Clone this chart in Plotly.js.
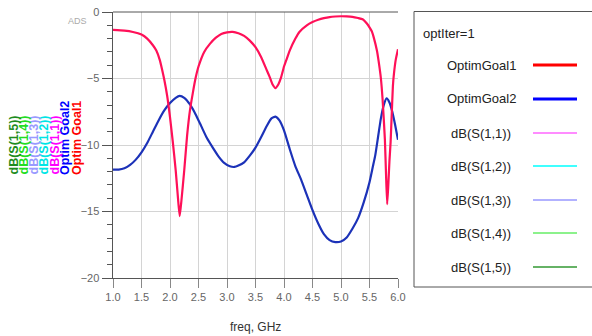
<!DOCTYPE html>
<html><head><meta charset="utf-8">
<script src="https://cdn.plot.ly/plotly-3.0.1.min.js"></script>
<style>html,body{margin:0;padding:0;background:#fff;}#chart{width:592px;height:336px;}</style>
</head><body><div id="chart"></div>
<script>
// ---- data ----
const freqGoal1 = [1.0,1.2,1.35,1.5,1.6,1.7,1.76,1.82,1.86,1.9,1.95,2.0,2.05,2.1,2.14,2.17,2.2,2.25,2.3,2.35,2.4,2.45,2.5,2.6,2.7,2.8,2.9,3.0,3.1,3.2,3.3,3.4,3.5,3.6,3.7,3.75,3.8,3.85,3.9,3.95,4.0,4.05,4.1,4.2,4.27,4.4,4.5,4.6,4.7,4.8,4.9,5.0,5.1,5.2,5.3,5.38,5.45,5.5,5.54,5.58,5.63,5.66,5.7,5.73,5.77,5.79,5.81,5.83,5.85,5.87,5.89,5.91,5.93,5.96,6.0];
const optimGoal1 = [-1.35,-1.4,-1.5,-1.7,-2.0,-2.5,-2.9,-3.6,-4.3,-5.1,-6.3,-7.9,-9.8,-11.9,-14.0,-15.35,-14.2,-11.9,-9.3,-7.4,-6.1,-4.95,-4.1,-3.0,-2.4,-1.95,-1.65,-1.53,-1.5,-1.6,-1.8,-2.15,-2.65,-3.4,-4.4,-4.9,-5.45,-5.72,-5.45,-4.9,-4.1,-3.5,-2.9,-2.0,-1.5,-1.0,-0.75,-0.58,-0.46,-0.38,-0.34,-0.32,-0.33,-0.36,-0.45,-0.55,-0.85,-1.15,-1.45,-2.0,-2.9,-3.7,-5.0,-6.6,-9.6,-12.2,-14.45,-13.0,-11.2,-9.8,-7.7,-5.6,-4.6,-3.6,-2.8];
const freqGoal2 = [1.0,1.1,1.2,1.3,1.4,1.5,1.6,1.7,1.8,1.9,2.0,2.1,2.17,2.25,2.35,2.45,2.55,2.65,2.75,2.85,2.95,3.05,3.13,3.2,3.3,3.4,3.5,3.6,3.7,3.78,3.85,3.92,4.0,4.1,4.2,4.3,4.4,4.5,4.6,4.7,4.8,4.9,5.0,5.1,5.2,5.3,5.4,5.5,5.56,5.6,5.65,5.7,5.75,5.8,5.85,5.9,5.95,6.0];
const optimGoal2 = [-11.85,-11.85,-11.75,-11.5,-11.1,-10.55,-9.85,-9.0,-8.15,-7.4,-6.85,-6.45,-6.3,-6.45,-6.95,-7.7,-8.6,-9.5,-10.2,-10.85,-11.35,-11.6,-11.65,-11.55,-11.3,-10.8,-10.2,-9.4,-8.55,-8.0,-7.87,-8.15,-8.9,-10.3,-11.6,-12.6,-13.75,-14.9,-15.9,-16.7,-17.15,-17.3,-17.25,-16.95,-16.3,-15.5,-14.3,-12.8,-11.6,-10.8,-9.4,-8.0,-7.0,-6.5,-6.8,-7.5,-8.5,-9.6];
const xTicks = [1.0,1.5,2.0,2.5,3.0,3.5,4.0,4.5,5.0,5.5,6.0];
const xTickText = ["1.0","1.5","2.0","2.5","3.0","3.5","4.0","4.5","5.0","5.5","6.0"];
const yTicks = [-20,-15,-10,-5,0];
const legendTitle = "optIter=1";
const seriesNames = ["OptimGoal1","OptimGoal2","dB(S(1,1))","dB(S(1,2))","dB(S(1,3))","dB(S(1,4))","dB(S(1,5))"];
const sideLabels = ["Optim Goal1","Optim Goal2","dB(S(1,1))","dB(S(1,2))","dB(S(1,3))","dB(S(1,4))","dB(S(1,5))"];
const seriesColors = ["#ff0000","#0000ff","#ff66ff","#00ffff","#9999ff","#66ee66","#339933"];
const sideColors = ["#ff0000","#0000ff","#ff00ff","#00e5e5","#9999ff","#22dd22","#1e8c1e"];

// ---- geometry helpers (pixel -> paper) ----
const W = 592, H = 336, L = 113, R = 194, T = 12, B = 58;
const PW = W - L - R, PH = H - T - B;
const px = x => (x - L) / PW;
const py = y => (H - B - y) / PH;

const sans = "Liberation Sans, Arial, sans-serif";

const traces = [
  {x: freqGoal2, y: optimGoal2, mode: "lines", name: seriesNames[1], line: {color: "#1c32b8", width: 2.2, shape: "spline", smoothing: 0.5}, showlegend: false, hoverinfo: "skip"},
  {x: freqGoal1, y: optimGoal1, mode: "lines", name: seriesNames[0], line: {color: "#ff1058", width: 2.2, shape: "spline", smoothing: 0.5}, showlegend: false, hoverinfo: "skip"}
];

const shapes = [
  {type: "line", xref: "paper", yref: "paper", x0: 0, x1: 1, y0: 1, y1: 1, line: {color: "#555", width: 1}},
  {type: "rect", xref: "paper", yref: "paper", x0: px(414), x1: px(600), y0: py(287), y1: py(11.5), line: {color: "#555", width: 1}, fillcolor: "rgba(0,0,0,0)"}
];
const annotations = [
  {xref: "paper", yref: "paper", x: px(421), y: py(33), xanchor: "left", yanchor: "middle", text: legendTitle, showarrow: false, font: {family: sans, size: 13, color: "#222"}},
  {xref: "paper", yref: "paper", x: px(77), y: py(21), xanchor: "center", yanchor: "middle", text: "ADS", showarrow: false, font: {family: sans, size: 9, color: "#aaa"}},
  {xref: "paper", yref: "paper", x: px(255.5), y: py(327), xanchor: "center", yanchor: "middle", text: "freq, GHz", showarrow: false, font: {family: sans, size: 12, color: "#333"}}
];
const rowY = [65, 99, 133, 166, 200, 233, 267];
const sideX = [77, 65, 54, 43, 33, 23, 13];
seriesNames.forEach((n, i) => {
  annotations.push({xref: "paper", yref: "paper", x: px(481), y: py(rowY[i]), xanchor: "center", yanchor: "middle", text: n, showarrow: false, font: {family: sans, size: 13, color: "#222"}});
  shapes.push({type: "line", xref: "paper", yref: "paper", x0: px(533), x1: px(577), y0: py(rowY[i]), y1: py(rowY[i]), line: {color: seriesColors[i], width: i < 2 ? 3 : 1.5}});
  annotations.push({xref: "paper", yref: "paper", x: px(sideX[i]), y: py(177), xanchor: "center", yanchor: "bottom", textangle: -90, text: sideLabels[i], showarrow: false, font: {family: sans, size: 12.5, color: sideColors[i], weight: "bold"}});
});

const layout = {
  width: W, height: H,
  margin: {l: L, r: R, t: T, b: B, pad: 0},
  paper_bgcolor: "#fff", plot_bgcolor: "#fff",
  showlegend: false,
  xaxis: {range: [1, 6], tickvals: xTicks, ticktext: xTickText, showgrid: true, gridcolor: "#d4d4d4", gridwidth: 1,
          zeroline: false, showline: true, linecolor: "#555", linewidth: 1.2, ticks: "outside", ticklen: 9, tickcolor: "#888",
          tickfont: {family: sans, size: 11, color: "#666"}, fixedrange: true},
  yaxis: {range: [-20, 0], tickvals: yTicks, showgrid: true, gridcolor: "#d4d4d4", gridwidth: 1,
          zeroline: false, showline: true, linecolor: "#555", linewidth: 1.5, ticks: "outside", ticklen: 10, tickcolor: "#555",
          minor: {dtick: 1, ticks: "outside", ticklen: 5, tickcolor: "#555", showgrid: false},
          tickfont: {family: sans, size: 11, color: "#666"}, fixedrange: true},
  shapes: shapes,
  annotations: annotations
};
Plotly.newPlot("chart", traces, layout, {staticPlot: true, displayModeBar: false});
</script></body></html>
